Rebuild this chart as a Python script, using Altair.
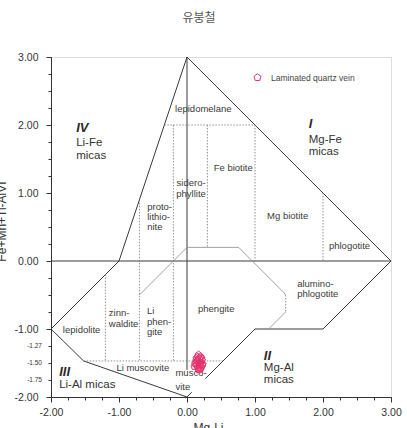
import altair as alt
import pandas as pd

# ---------------- data ----------------
# boundary segments (x1, y1, x2, y2) in data units
solid_segments = [
    (0, 3, -1, 0), (-1, 0, -2, -1), (-2, -1, -1.52, -1.47), (-1.52, -1.47, 0, -2),
    (0, -2, 0.07, -1.93), (0.27, -1.73, 1, -1), (1, -1, 2, -1), (2, -1, 3, 0),
    (3, 0, 0, 3), (-2, 0, 3, 0), (0, -1.6, 0, 3),
]
grey_segments = [
    (-0.7, -0.5, 0, 0.2), (0, 0.2, 0.76, 0.2), (0.76, 0.2, 1.42, -0.46),
    (1.42, -0.46, 1.45, -0.5), (1.45, -0.75, 1.2, -1),
]
dotted_segments = [
    (-0.333, 2, 1, 2), (-0.2, 2, -0.2, -1.47), (-0.7, 0.9, -0.7, -1.47),
    (-1.2, -0.2, -1.2, -1.47), (0.3, 2, 0.3, 0.2), (1, 2, 1, 0), (2, 1, 2, 0),
    (-1.52, -1.47, 0.53, -1.47), (1.45, -0.5, 1.45, -0.75),
]

# field names (text, x, y, align)
field_labels = [
    ("lepidomelane", 0.24, 2.23, "center"),
    ("sidero-", 0.06, 1.14, "center"), ("phyllite", 0.06, 0.99, "center"),
    ("proto-", -0.585, 0.79, "left"), ("lithio-", -0.585, 0.645, "left"), ("nite", -0.585, 0.50, "left"),
    ("Fe biotite", 0.68, 1.37, "center"),
    ("Mg biotite", 1.48, 0.66, "center"),
    ("phlogotite", 2.39, 0.22, "center"),
    ("alumino-", 1.62, -0.34, "left"), ("phlogotite", 1.62, -0.49, "left"),
    ("phengite", 0.43, -0.71, "center"),
    ("lepidolite", -1.55, -1.02, "center"),
    ("zinn-", -1.15, -0.77, "left"), ("waldite", -1.15, -0.93, "left"),
    ("Li", -0.59, -0.74, "left"), ("phen-", -0.59, -0.89, "left"), ("gite", -0.59, -1.04, "left"),
    ("Li muscovite", -0.65, -1.57, "center"),
    ("musco-", -0.17, -1.64, "left"), ("vite", -0.17, -1.85, "left"),
]
group_numbers = [("IV", -1.63, 1.96), ("I", 1.79, 2.01), ("II", 1.13, -1.39), ("III", -1.88, -1.63)]
group_names = [
    ("Li-Fe", -1.63, 1.73), ("micas", -1.63, 1.54),
    ("Mg-Fe", 1.79, 1.775), ("micas", 1.79, 1.60),
    ("Mg-Al", 1.13, -1.58), ("micas", 1.13, -1.75),
    ("Li-Al micas", -1.88, -1.83),
]

# extra (small) y tick labels
small_tick_pos = [-1.25, -1.5, -1.75]
small_tick_text = ["-1.27", "-1.50", "-1.75"]

# sample points: Laminated quartz vein
vein_x = [0.17, 0.20, 0.14, 0.18, 0.22, 0.16, 0.20, 0.12, 0.18, 0.23, 0.15, 0.19,
          0.21, 0.16, 0.11, 0.19, 0.22, 0.17, 0.14, 0.21, 0.18, 0.20, 0.16, 0.13]
vein_y = [-1.38, -1.41, -1.43, -1.44, -1.46, -1.47, -1.49, -1.51, -1.50, -1.52, -1.53, -1.54,
          -1.56, -1.57, -1.55, -1.59, -1.53, -1.60, -1.46, -1.43, -1.52, -1.58, -1.41, -1.49]
series_name = "Laminated quartz vein"

major_ticks = [-2, -1, 0, 1, 2, 3]
minor_ticks = [-2.0 + 0.25 * i for i in range(21)]

# ---------------- chart ----------------
FONT = "Liberation Sans"
PENT = "M0,-1L0.951,-0.309L0.588,0.809L-0.588,0.809L-0.951,-0.309Z"
xs = alt.Scale(domain=[-2, 3], nice=False, zero=False)
ys = alt.Scale(domain=[-2, 3], nice=False, zero=False)

x_axis = alt.Axis(
    orient="bottom", values=major_ticks, format=".2f",
    tickSize=5, grid=False, domainColor="#333", tickColor="#333", labelColor="#333",
    labelFont=FONT, labelFontSize=10.5, labelPadding=5, labelFlush=False,
    title="Mg-Li", titleFont=FONT, titleFontSize=12, titleFontWeight="normal",
    titleColor="#333", titleX=157, titleY=25, titleBaseline="top", titleAlign="center",
)
y_axis = alt.Axis(
    orient="left", values=major_ticks, format=".2f",
    tickSize=5, grid=False, domainColor="#333", tickColor="#333", labelColor="#333",
    labelFont=FONT, labelFontSize=10.5, labelPadding=8, labelFlush=False,
    title="Fe+Mn+Ti-AlVI", titleFont=FONT, titleFontSize=12, titleFontWeight="normal",
    titleColor="#333", titleX=-43, titleY=164, titleAngle=270,
    titleBaseline="bottom", titleAlign="center",
)
x_minor = alt.Axis(orient="bottom", values=minor_ticks, labels=False, domain=False, grid=False,
                   tickSize=3, tickColor="#333", title=None)
y_minor = alt.Axis(orient="left", values=minor_ticks, labels=False, domain=False, grid=False,
                   tickSize=3, tickColor="#333", title=None)


def seg_df(segs):
    return pd.DataFrame(segs, columns=["x", "y", "x2", "y2"])


base_solid = alt.Chart(seg_df(solid_segments)).mark_rule(color="#3a3a3a", strokeWidth=1).encode(
    x=alt.X("x:Q", scale=xs, axis=x_axis),
    y=alt.Y("y:Q", scale=ys, axis=y_axis),
    x2="x2:Q", y2="y2:Q",
)

grey = alt.Chart(seg_df(grey_segments)).mark_rule(color="#8a8a8a", strokeWidth=0.8).encode(
    x=alt.X("x:Q", scale=xs, axis=x_minor), y=alt.Y("y:Q", scale=ys, axis=y_minor),
    x2="x2:Q", y2="y2:Q",
)
dotted = alt.Chart(seg_df(dotted_segments)).mark_rule(
    color="#777", strokeWidth=0.8, strokeDash=[1.5, 1.5]
).encode(
    x=alt.X("x:Q", scale=xs, axis=None), y=alt.Y("y:Q", scale=ys, axis=None),
    x2="x2:Q", y2="y2:Q",
)

fl = pd.DataFrame(field_labels, columns=["t", "x", "y", "a"])


def text_layer(df, size, **kw):
    return alt.Chart(df).mark_text(font=FONT, fontSize=size, baseline="middle", **kw).encode(
        x=alt.X("x:Q", scale=xs, axis=None), y=alt.Y("y:Q", scale=ys, axis=None), text="t:N"
    )


fields_c = text_layer(fl[fl.a == "center"], 9.5, align="center", color="#3a3a3a")
fields_l = text_layer(fl[fl.a == "left"], 9.5, align="left", color="#3a3a3a")
gnum = text_layer(pd.DataFrame(group_numbers, columns=["t", "x", "y"]), 13, align="left",
                  color="#2a2a2a", fontWeight="bold", fontStyle="italic")
gname = text_layer(pd.DataFrame(group_names, columns=["t", "x", "y"]), 11.5, align="left",
                   color="#333")

small = alt.Chart(pd.DataFrame({"x": [-2] * 3, "y": small_tick_pos, "t": small_tick_text})).mark_text(
    font=FONT, fontSize=6.5, align="right", baseline="middle", dx=-9, color="#333"
).encode(x=alt.X("x:Q", scale=xs, axis=None), y=alt.Y("y:Q", scale=ys, axis=None), text="t:N")

pts = alt.Chart(pd.DataFrame({"x": vein_x, "y": vein_y, "s": [series_name] * len(vein_x)})).mark_point(
    shape=PENT, filled=False, size=55, strokeWidth=1, opacity=1
).encode(
    x=alt.X("x:Q", scale=xs, axis=None), y=alt.Y("y:Q", scale=ys, axis=None),
    color=alt.Color("s:N", scale=alt.Scale(range=["#e6336e"]), legend=alt.Legend(
        orient="none", legendX=202, legendY=16, title=None, symbolType=PENT, symbolSize=55,
        symbolStrokeWidth=1, labelFont=FONT, labelFontSize=8.5, labelColor="#444",
        labelOffset=9, padding=0,
    )),
)

chart = alt.layer(base_solid, grey, dotted, fields_c, fields_l, gnum, gname, small, pts).resolve_axis(
    x="independent", y="independent"
).properties(
    width=340, height=340,
    autosize=alt.AutoSizeParams(type="none"),
    padding={"left": 51, "top": 57, "right": 16, "bottom": 31},
    title=alt.TitleParams("유붕철", font="Noto Sans CJK KR", fontSize=12, color="#555",
                          fontWeight="normal", anchor="middle", offset=22, dx=-22, baseline="middle"),
).configure_view(strokeWidth=0).configure(
    background="white",
    locale=alt.Locale(number=alt.NumberLocale(decimal=".", thousands=",", grouping=[3],
                                              currency=["", ""], minus="-")),
)

chart.save("out.html", embed_options={"renderer": "svg", "actions": False})
